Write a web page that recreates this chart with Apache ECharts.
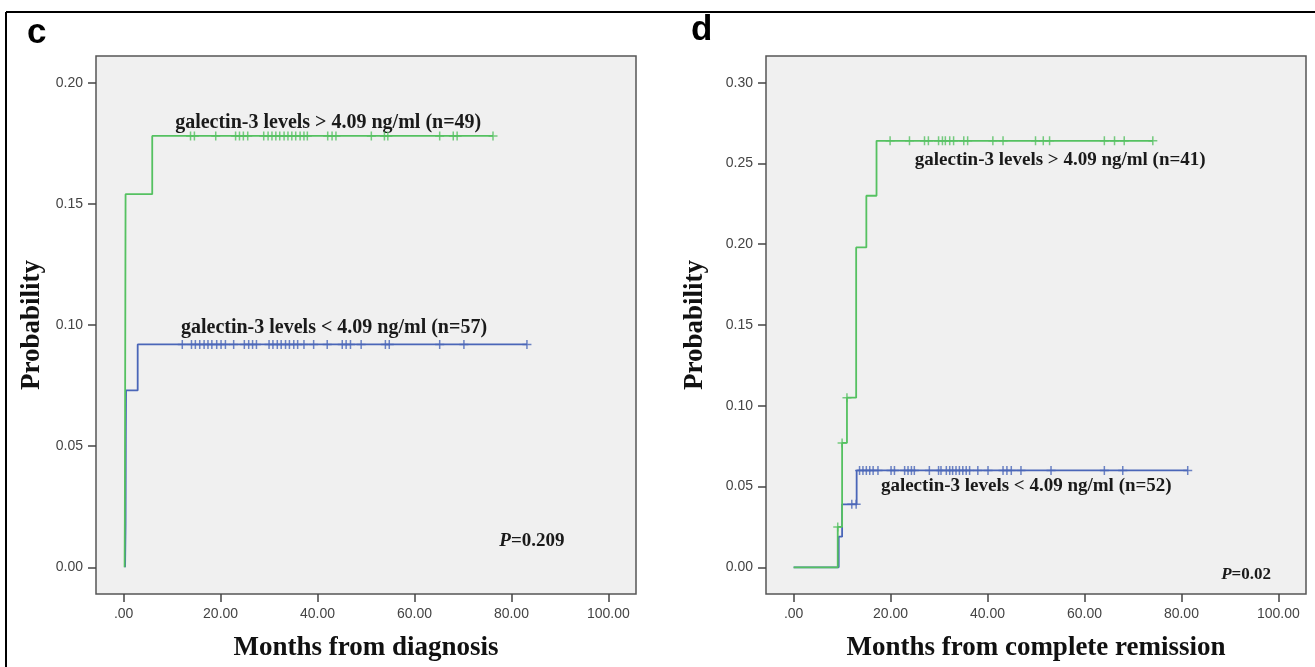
<!DOCTYPE html>
<html>
<head>
<meta charset="utf-8">
<script src="https://cdn.jsdelivr.net/npm/echarts@6/dist/echarts.min.js"></script>
<style>
  html, body { margin: 0; padding: 0; background: #fff; }
  #mybox { width: 1315px; height: 667px; }
</style>
</head>
<body>
<div id="mybox"></div>
<script>
// panel c : months from diagnosis
var cHighTime = [0.2, 0.25, 0.3, 0.35, 0.4, 5.9, 76.2];
var cHighProb = [0, 0.021, 0.064, 0.108, 0.154, 0.178, 0.178];
var cHighCensor = [13.8, 14.6, 19.0, 23.1, 23.9, 24.7, 25.6, 28.9, 29.8, 30.6, 31.4, 32.2, 33.1, 33.9,
  34.7, 35.5, 36.4, 37.2, 37.9, 42.1, 43.0, 43.8, 51.1, 53.8, 54.5, 65.2, 68.0, 68.8, 76.2];

var cLowTime = [0.3, 0.4, 0.45, 0.5, 2.9, 83.2];
var cLowProb = [0, 0.018, 0.054, 0.073, 0.092, 0.092];
var cLowCensor = [12.1, 14.0, 14.8, 15.7, 16.6, 17.4, 18.2, 19.2, 20.1, 21.0, 22.7, 24.9, 25.8, 26.6,
  27.4, 30.0, 30.8, 31.7, 32.5, 33.4, 34.2, 35.1, 35.9, 37.2, 39.2, 42.0, 45.1, 45.9, 46.8, 49.0,
  54.0, 54.8, 65.2, 70.2, 83.2];

// panel d : months from complete remission
var dHighTime = [0, 9.1, 10.0, 11.0, 12.9, 15.0, 17.1, 74.1];
var dHighProb = [0, 0.025, 0.077, 0.105, 0.198, 0.230, 0.264, 0.264];
var dHighCensor = [9.1, 10.0, 11.0, 19.9, 23.9, 27.0, 27.8, 29.9, 30.7, 31.3, 32.2, 33.0, 35.1, 35.9,
  41.1, 43.2, 49.9, 51.5, 52.8, 64.1, 66.2, 68.2, 74.1];

var dLowTime = [0, 9.3, 10.0, 13.0, 81.3];
var dLowProb = [0, 0.019, 0.039, 0.060, 0.060];
var dLowCensor = [12.0, 12.9, 13.6, 14.3, 15.0, 15.7, 16.4, 17.4, 20.1, 20.8, 22.9, 23.6, 24.3, 24.9,
  28.0, 29.9, 30.4, 31.5, 32.2, 32.8, 33.5, 34.2, 34.9, 35.6, 36.3, 38.0, 40.1, 43.2, 44.0, 44.9,
  46.9, 53.1, 64.1, 67.9, 81.3];

var xTicks = [0, 20, 40, 60, 80, 100];
var cYTicks = [0, 0.05, 0.10, 0.15, 0.20];
var dYTicks = [0, 0.05, 0.10, 0.15, 0.20, 0.25, 0.30];

var GREEN = '#55c161';
var BLUE = '#4a66b8';

function pairs(t, p) {
  return t.map(function (v, i) { return [v, p[i]]; });
}
// value of the step curve at time x
function levelAt(t, p, x) {
  var y = p[0];
  for (var i = 0; i < t.length; i++) { if (t[i] <= x) y = p[i]; }
  return y;
}
function censorPts(times, t, p) {
  return times.map(function (x) { return [x, levelAt(t, p, x)]; });
}

var crossSym = 'path://M4,0L4,8M0,4L8,4';

function kmLine(name, idx, t, p, color) {
  return {
    name: name, type: 'line', step: 'end', xAxisIndex: idx, yAxisIndex: idx,
    data: pairs(t, p), showSymbol: false, silent: true,
    lineStyle: { color: color, width: 1.8 }
  };
}
function kmCensor(name, idx, times, t, p, color) {
  return {
    name: name, type: 'scatter', xAxisIndex: idx, yAxisIndex: idx,
    data: censorPts(times, t, p), symbol: crossSym, symbolSize: 9, silent: true,
    itemStyle: { color: 'none', borderColor: color, borderWidth: 1.5 }
  };
}

function xAx(idx, title, gap) {
  return {
    type: 'value', gridIndex: idx, min: -5.7, max: 105.7,
    name: title, nameLocation: 'middle', nameGap: gap,
    nameTextStyle: { fontFamily: 'Liberation Serif', fontWeight: 'bold', fontSize: 27, color: '#111' },
    axisLine: { show: false, onZero: false },
    splitLine: { show: false },
    axisTick: { show: true, length: 8, customValues: xTicks, lineStyle: { color: '#444', width: 1.5 } },
    axisLabel: {
      customValues: xTicks, margin: 13, fontFamily: 'Liberation Sans', fontSize: 14, color: '#444',
      formatter: function (v) { return v === 0 ? '.00' : v.toFixed(2); }
    }
  };
}
function yAx(idx, min, max, ticks, gap) {
  return {
    type: 'value', gridIndex: idx, min: min, max: max,
    name: 'Probability', nameLocation: 'middle', nameGap: gap,
    nameTextStyle: { fontFamily: 'Liberation Serif', fontWeight: 'bold', fontSize: 27, color: '#111' },
    axisLine: { show: false, onZero: false },
    splitLine: { show: false },
    axisTick: { show: true, length: 8, customValues: ticks, lineStyle: { color: '#444', width: 1.5 } },
    axisLabel: {
      customValues: ticks, margin: 13, fontFamily: 'Liberation Sans', fontSize: 14, color: '#444',
      formatter: function (v) { return v.toFixed(2); }
    }
  };
}

var mycharts = echarts.init(document.getElementById('mybox'));

var optionObj = {
  animation: false,
  backgroundColor: '#fff',
  grid: [
    { left: 96, top: 56, width: 540, height: 544, show: true, backgroundColor: '#f0f0f0', borderColor: '#555', borderWidth: 1.5 },
    { left: 766, top: 56, width: 540, height: 544, show: true, backgroundColor: '#f0f0f0', borderColor: '#555', borderWidth: 1.5 }
  ],
  xAxis: [xAx(0, 'Months from diagnosis', 41), xAx(1, 'Months from complete remission', 41)],
  yAxis: [yAx(0, -0.011, 0.211, cYTicks, 50), yAx(1, -0.0165, 0.3165, dYTicks, 57)],
  series: [
    kmLine('c low', 0, cLowTime, cLowProb, BLUE),
    kmCensor('c low censor', 0, cLowCensor, cLowTime, cLowProb, BLUE),
    kmLine('c high', 0, cHighTime, cHighProb, GREEN),
    kmCensor('c high censor', 0, cHighCensor, cHighTime, cHighProb, GREEN),
    kmLine('d low', 1, dLowTime, dLowProb, BLUE),
    kmCensor('d low censor', 1, dLowCensor, dLowTime, dLowProb, BLUE),
    kmLine('d high', 1, dHighTime, dHighProb, GREEN),
    kmCensor('d high censor', 1, dHighCensor, dHighTime, dHighProb, GREEN)
  ]
};
mycharts.setOption(optionObj);

// text notes, placed in data coordinates
var notes = [
  { g: 0, at: [42.2, 0.1833], text: 'galectin-3 levels > 4.09 ng/ml (n=49)', size: 20 },
  { g: 0, at: [43.4, 0.0988], text: 'galectin-3 levels < 4.09 ng/ml (n=57)', size: 20 },
  { g: 1, at: [55.0, 0.2519], text: 'galectin-3 levels > 4.09 ng/ml (n=41)', size: 19 },
  { g: 1, at: [48.0, 0.0502], text: 'galectin-3 levels < 4.09 ng/ml (n=52)', size: 19 }
];
var pNotes = [
  { g: 0, at: [77.5, 0.0107], value: '=0.209', size: 19 },
  { g: 1, at: [88.2, -0.0043], value: '=0.02', size: 17 }
];

var gfx = [
  { type: 'line', shape: { x1: 6, y1: 12, x2: 1315, y2: 12 }, style: { stroke: '#000', lineWidth: 2 } },
  { type: 'line', shape: { x1: 6, y1: 12, x2: 6, y2: 667 }, style: { stroke: '#000', lineWidth: 2 } },
  { type: 'text', left: 27, top: 16, style: { text: 'c', font: 'bold 35px "Liberation Sans"', fill: '#000' } },
  { type: 'text', left: 691, top: 13, style: { text: 'd', font: 'bold 35px "Liberation Sans"', fill: '#000' } }
];
notes.forEach(function (n) {
  var px = mycharts.convertToPixel({ gridIndex: n.g }, n.at);
  gfx.push({
    type: 'text', x: px[0], y: px[1],
    style: { text: n.text, font: 'bold ' + n.size + 'px "Liberation Serif"', fill: '#1a1a1a', align: 'center', verticalAlign: 'middle' }
  });
});
pNotes.forEach(function (n) {
  var px = mycharts.convertToPixel({ gridIndex: n.g }, n.at);
  gfx.push({
    type: 'text', x: px[0], y: px[1],
    style: {
      text: '{p|P}{v|' + n.value + '}', verticalAlign: 'middle', align: 'left',
      rich: {
        p: { fontFamily: 'Liberation Serif', fontWeight: 'bold', fontStyle: 'italic', fontSize: n.size, fill: '#1a1a1a' },
        v: { fontFamily: 'Liberation Serif', fontWeight: 'bold', fontSize: n.size, fill: '#1a1a1a' }
      }
    }
  });
});
mycharts.setOption({ graphic: gfx });
</script>
</body>
</html>
